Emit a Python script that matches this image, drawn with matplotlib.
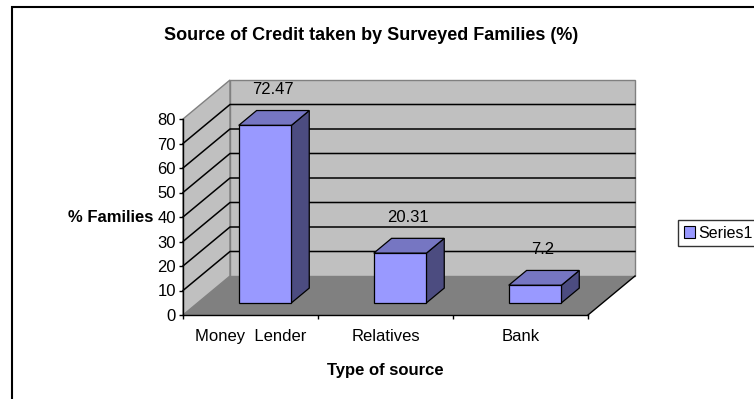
import matplotlib
matplotlib.use("Agg")
import matplotlib.pyplot as plt
from matplotlib.patches import Polygon, Rectangle, Patch

plt.rcParams['font.family'] = ['Liberation Sans', 'DejaVu Sans']

# Data
categories = ["Money  Lender", "Relatives", "Bank"]
values = [72.47, 20.31, 7.2]
value_labels = ["72.47", "20.31", "7.2"]
y_ticks = [0, 10, 20, 30, 40, 50, 60, 70, 80]
series_name = "Series1"

# 3D look: depth offset of the walls in data units
DX = 47 / 135          # horizontal shift of the back plane (category units)
DY = 39 / 196 * 80     # vertical shift of the back plane (value units)
BAR_W = 0.39           # bar width (category units)
D0, DD = 0.31, 0.38    # bar start depth and bar depth (fraction of full depth)

FRONT = "#9999ff"
TOP = "#7676c2"
SIDE = "#4c4c80"
WALL = "#c0c0c0"
FLOOR = "#808080"
FS = 12

fig = plt.figure(figsize=(7.54, 3.99), dpi=100)
fig.patch.set_facecolor("white")

ax = fig.add_axes([183 / 754, 1 - 315 / 399, 405 / 754, 196 / 399])
ax.set_xlim(0, len(categories))
ax.set_ylim(0, y_ticks[-1])
ax.patch.set_visible(False)
for s in ("top", "right"):
    ax.spines[s].set_visible(False)
for s in ("left", "bottom"):
    ax.spines[s].set_color("black")
    ax.spines[s].set_linewidth(1.0)
    ax.spines[s].set_zorder(6)

n = len(categories)
ymax = y_ticks[-1]

def shifted(x, y, d):
    return (x + d * DX, y + d * DY)

# Left wall
ax.add_patch(Polygon([shifted(0, 0, 0), shifted(0, ymax, 0), shifted(0, ymax, 1), shifted(0, 0, 1)],
                     closed=True, facecolor=WALL, edgecolor="#808080", lw=1.0, clip_on=False, zorder=1))
# Back wall
ax.add_patch(Polygon([shifted(0, 0, 1), shifted(n, 0, 1), shifted(n, ymax, 1), shifted(0, ymax, 1)],
                     closed=True, facecolor=WALL, edgecolor="#808080", lw=1.0, clip_on=False, zorder=1))
# Floor
ax.add_patch(Polygon([shifted(0, 0, 0), shifted(n, 0, 0), shifted(n, 0, 1), shifted(0, 0, 1)],
                     closed=True, facecolor=FLOOR, edgecolor="none", clip_on=False, zorder=2))
fx0, fy0 = shifted(n, 0, 0)
fx1, fy1 = shifted(n, 0, 1)
ax.plot([fx0, fx1], [fy0, fy1], color="black", lw=1.0, clip_on=False, zorder=3)

# Gridlines on the left and back walls
for t in y_ticks[1:-1]:
    x0, y0 = shifted(0, t, 0)
    x1, y1 = shifted(0, t, 1)
    x2, y2 = shifted(n, t, 1)
    ax.plot([x0, x1, x2], [y0, y1, y2], color="black", lw=1.1, clip_on=False, zorder=2)

# Bars
for i, v in enumerate(values):
    xl = i + 0.5 - BAR_W / 2
    xr = i + 0.5 + BAR_W / 2
    d1 = D0 + DD
    side = [shifted(xr, 0, D0), shifted(xr, v, D0), shifted(xr, v, d1), shifted(xr, 0, d1)]
    top = [shifted(xl, v, D0), shifted(xr, v, D0), shifted(xr, v, d1), shifted(xl, v, d1)]
    front = [shifted(xl, 0, D0), shifted(xr, 0, D0), shifted(xr, v, D0), shifted(xl, v, D0)]
    for pts, col in ((side, SIDE), (top, TOP), (front, FRONT)):
        ax.add_patch(Polygon(pts, closed=True, facecolor=col, edgecolor="black",
                             lw=0.9, joinstyle="miter", clip_on=False, zorder=4))
    lx, ly = shifted(i + 0.5, v, D0 + DD / 2)
    ax.annotate(value_labels[i], xy=(lx, ly), xytext=(-1, 28), textcoords="offset pixels",
                ha="center", va="center", fontsize=FS, color="black",
                annotation_clip=False, zorder=7)

# Axes ticks and labels
ax.set_yticks(y_ticks)
ax.set_yticklabels([str(t) for t in y_ticks], fontsize=FS)
ax.tick_params(axis="y", direction="out", length=3, width=1.0, pad=2, colors="black")
ax.set_xticks(range(n + 1))
ax.set_xticklabels([""] * (n + 1))
ax.tick_params(axis="x", which="major", direction="out", length=3, width=1.0)
ax.set_xticks([i + 0.5 for i in range(n)], minor=True)
ax.set_xticklabels(categories, minor=True, fontsize=FS)
ax.tick_params(axis="x", which="minor", length=0, pad=10)

ax.set_xlabel("Type of source", fontsize=FS, fontweight="bold", labelpad=14)
ax.annotate("% Families", xy=(0, 40), xytext=(-30, 0), textcoords="offset pixels",
            ha="right", va="center", fontsize=FS, fontweight="bold", annotation_clip=False)

fig.text(371 / 754, 1 - 35 / 399, "Source of Credit taken by Surveyed Families (%)",
         ha="center", va="center", fontsize=13, fontweight="bold")

# Legend
handle = Patch(facecolor=FRONT, edgecolor="black", linewidth=0.8, label=series_name)
leg = fig.legend(handles=[handle], loc="center left", bbox_to_anchor=(678 / 754, 1 - 233 / 399),
                 frameon=True, fancybox=False, fontsize=11.5, handlelength=0.7, handleheight=0.7,
                 handletextpad=0.25, borderpad=0.35, borderaxespad=0)
leg.get_frame().set_edgecolor("black")
leg.get_frame().set_linewidth(1.0)

# Chart area border
fig.patches.append(Rectangle((12 / 754, -0.1), 1.2, 1.1 - 6.5 / 399, transform=fig.transFigure,
                             facecolor="none", edgecolor="black", linewidth=1.5, zorder=0))

fig.savefig("out.png", dpi=100)
